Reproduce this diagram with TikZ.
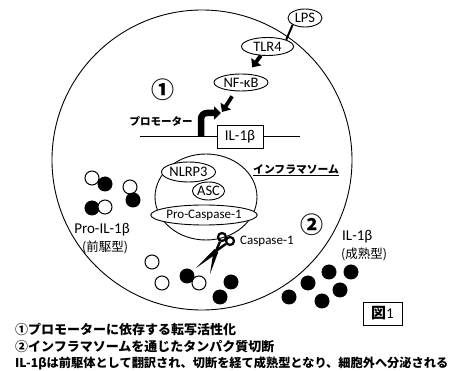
\documentclass[tikz,border=0pt]{standalone}
\usepackage{fontspec}
\setmainfont{Carlito}
\newfontfamily\jp{Noto Sans CJK JP}
\usetikzlibrary{shapes.geometric,arrows.meta,calc}
\newcommand{\fsz}[1]{\fontsize{#1}{#1}\selectfont}

\begin{document}
\begin{tikzpicture}[x=1pt,y=-1pt,
  outline/.style={draw,line width=0.9pt},
  mol/.style={ellipse,outline,inner sep=0pt,fill=white,font=\fsz{14.5}},
  lbl/.style={inner sep=0pt,font=\fsz{15}},
  jplbl/.style={inner sep=0pt,font=\jp\bfseries\fsz{10.5}},
  numlbl/.style={inner sep=0pt,font=\jp\bfseries\fsz{23}},
  bigarrow/.style={line width=3.8pt,-{Triangle[length=7pt,width=12pt]}},
  openmol/.style={circle,draw,line width=1pt,fill=white,minimum size=14pt,inner sep=0pt},
  fullmol/.style={circle,fill=black,minimum size=15pt,inner sep=0pt},
  caption/.style={anchor=west,inner sep=0pt,font=\jp\bfseries\fsz{13}},
]
\useasboundingbox (0,0) rectangle (458,371);
\fill[white] (0,0) rectangle (458,371);

% the cell
\node[circle,outline,minimum size=300pt,inner sep=0pt] (cell) at (202,160) {};

% signalling chain: LPS -> TLR4 -> NF-kB
\node[mol,minimum width=34pt,minimum height=18pt] (lps) at (305,18) {LPS};
\node[mol,minimum width=52pt,minimum height=18pt] (tlr4) at (267.5,46.5) {TLR4};
\node[mol,minimum width=54pt,minimum height=17pt] (nfkb) at (241,82.5) {NF-κB};
\draw[line width=2pt] (lps.south west) -- (tlr4.north east);
\draw[bigarrow,shorten >=8pt] (tlr4) -- (nfkb);

% gene with promoter
\coordinate (dnaL) at (140,137);
\coordinate (dnaR) at (300,137);
\coordinate (tss) at (201,137);
\coordinate (tsstip) at (221,113);
\draw[line width=1pt] (dnaL) -- (dnaR);
\node[draw,line width=0.9pt,fill=white,minimum width=46pt,minimum height=23pt,inner sep=0pt,font=\fsz{15}] (gene) at (240,136.5) {IL-1β};
\draw[line width=6.5pt,rounded corners=6pt,-{Triangle[length=7pt,width=13pt]}] (tss) |- (tsstip);
\draw[bigarrow,shorten <=6pt] (nfkb) -- ($(tsstip)+(1,-1)$);
\node[jplbl] (promoter) at (161,121) {プロモーター};
\node[numlbl] (n1) at (163,90) {①};

% inflammasome
\node[ellipse,outline,minimum width=102pt,minimum height=86pt,inner sep=0pt] (infl) at (206,197) {};
\node[mol,minimum width=46pt,minimum height=20pt] (nlrp3) at (188.5,172) {NLRP3};
\node[mol,minimum width=28pt,minimum height=18pt] (asc) at (208.5,191) {ASC};
\node[mol,minimum width=78pt,minimum height=20pt,font=\fsz{13}] (procasp) at (204,215) {Pro-Caspase-1};
\node[jplbl,anchor=west,font=\jp\bfseries\fsz{10.8}] (infllbl) at (253,169) {インフラマソーム};
\draw[line width=0.9pt] ($(infllbl.south west)+(0,1.5)$) -- ($(infllbl.south east)+(0,1.5)$);

% scissors (caspase-1 cleavage)
\coordinate (pv) at (216,251);
\coordinate (tipA) at (210,274);
\coordinate (tipB) at (196,268);
\node[circle,draw,line width=2.2pt,minimum size=8pt,inner sep=0pt] (ringA) at (222,237) {};
\node[circle,draw,line width=2.2pt,minimum size=8pt,inner sep=0pt] (ringB) at (230,241) {};
\draw[line width=2.4pt] (ringA) -- (pv);
\draw[line width=2.4pt] (ringB) -- (pv);
\fill ($(pv)!2.5pt!90:(tipA)$) -- (tipA) -- ($(pv)!2.5pt!-90:(tipA)$) -- cycle;
\fill ($(pv)!2.5pt!90:(tipB)$) -- (tipB) -- ($(pv)!2.5pt!-90:(tipB)$) -- cycle;
\node[inner sep=0pt,anchor=west,font=\fsz{13}] (casp) at (240,241) {Caspase-1};

% precursor IL-1beta inside the cell
\node[openmol] (o1) at (92,178) {};
\node[fullmol] (f1) at (105,184) {};
\node[openmol] (o2) at (130,187) {};
\node[fullmol] (f2) at (133,200) {};
\node[fullmol] (f3) at (92,208) {};
\node[openmol] (o3) at (105,207) {};
\node[openmol] (o4) at (152,262) {};
\node[openmol] (o5) at (162,283) {};
\node[fullmol] (f4) at (187,276) {};
\node[openmol] (o6) at (199,283) {};
\node[lbl] (prolbl) at (102,230) {Pro-IL-1β};
\node[inner sep=0pt,font=\jp\fsz{12.5}] (prolbl2) at (105,247) {(前駆型)};

% mature IL-1beta
\node[fullmol] (m1) at (231,282) {};
\node[fullmol] (m2) at (220,297) {};
\node[fullmol] (m3) at (289,297) {};
\node[fullmol] (m4) at (308,283) {};
\node[fullmol] (m5) at (322,301) {};
\node[fullmol] (m6) at (329,272) {};
\node[fullmol] (m7) at (351,272) {};
\node[fullmol] (m8) at (340,290) {};
\node[numlbl] (n2) at (312,225) {②};
\node[lbl,anchor=west] (matlbl) at (342,237) {IL-1β};
\node[inner sep=0pt,anchor=west,font=\jp\fsz{12.5}] (matlbl2) at (341,254) {(成熟型)};

% figure tag
\node[draw,line width=0.8pt,minimum width=39pt,minimum height=23pt,inner sep=0pt,font=\fsz{15}] (tag) at (382.5,313.5) {{\jp\bfseries 図}1};

% captions
\node[caption] (cap1) at (15,330) {①プロモーターに依存する転写活性化};
\node[caption] (cap2) at (15,347) {②インフラマソームを通じたタンパク質切断};
\node[caption,font=\jp\bfseries\fsz{12.2}] (cap3) at (15,363.5) {IL-1βは前駆体として翻訳され、切断を経て成熟型となり、細胞外へ分泌される};
\end{tikzpicture}
\end{document}
